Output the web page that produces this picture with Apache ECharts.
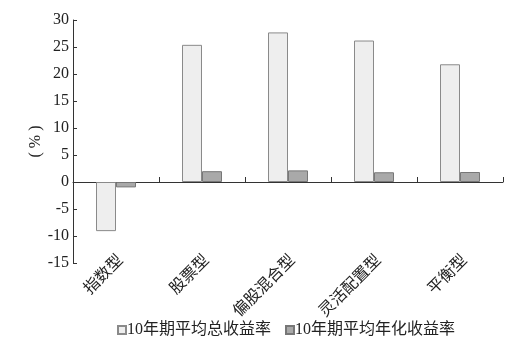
<!DOCTYPE html>
<html><head><meta charset="utf-8">
<script src="https://cdn.jsdelivr.net/npm/echarts@6/dist/echarts.min.js"></script>
<style>html,body{margin:0;padding:0;background:#fff}#c{width:510px;height:358px}</style>
</head><body><div id="c"></div>
<script>
const categories = ['指数型', '股票型', '偏股混合型', '灵活配置型', '平衡型'];
const totalReturn = [-9.1, 25.4, 27.7, 26.2, 21.8];
const annualReturn = [-1.0, 2.0, 2.15, 1.8, 1.85];
const seriesNames = ['10年期平均总收益率', '10年期平均年化收益率'];
const FONT = '"Liberation Serif", "Noto Sans CJK SC", serif';
const chart = echarts.init(document.getElementById('c'));
chart.setOption({
  animation: false,
  textStyle: { fontFamily: FONT },
  grid: { left: 73, right: 7, top: 20, bottom: 95 },
  legend: {
    top: 317, left: 112, itemWidth: 8, itemHeight: 8, itemGap: 14,
    icon: 'rect',
    textStyle: { fontFamily: FONT, fontSize: 16, color: '#222', padding: [0, 0, 0, -4] },
    data: seriesNames
  },
  xAxis: [{
    type: 'category', data: categories,
    axisLine: { onZero: true, lineStyle: { color: '#333', width: 1 } },
    axisTick: { show: true, inside: true, length: 5, lineStyle: { color: '#333' } },
    axisLabel: { show: false }
  }, {
    type: 'category', data: categories, position: 'bottom',
    axisLine: { show: false }, axisTick: { show: false },
    axisLabel: { rotate: 45, fontSize: 16, color: '#222', margin: 0, padding: [0, -7, 0, 0], fontFamily: FONT }
  }],
  yAxis: {
    type: 'value', min: -15, max: 30, interval: 5,
    name: '( % )', nameLocation: 'middle', nameRotate: 90, nameGap: 29, nameMoveOverlap: false,
    nameTextStyle: { fontSize: 16, color: '#222', fontFamily: FONT },
    axisLine: { show: true, lineStyle: { color: '#333' } },
    axisTick: { show: true, inside: true, length: 4, lineStyle: { color: '#333' } },
    axisLabel: { fontSize: 16, color: '#222', margin: 4, fontFamily: FONT },
    splitLine: { show: false }
  },
  series: [{
    name: seriesNames[0], type: 'bar', data: totalReturn, barWidth: 20, barGap: '0%',
    itemStyle: { color: '#eeeeee', borderColor: '#8a8a8a', borderWidth: 1 }
  }, {
    name: seriesNames[1], type: 'bar', data: annualReturn, barWidth: 20, barGap: '0%',
    itemStyle: { color: '#a9a9a9', borderColor: '#777', borderWidth: 1 }
  }]
});
</script></body></html>
